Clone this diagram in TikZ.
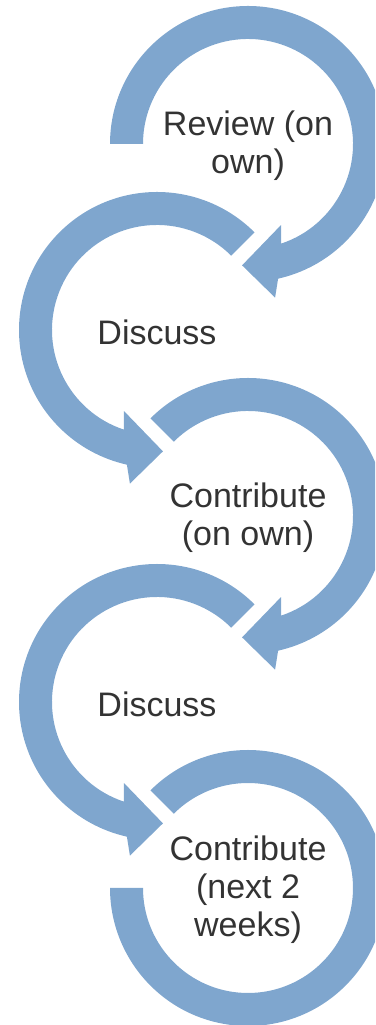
\documentclass[tikz,border=0pt]{standalone}
\usepackage{fontspec}
\setmainfont{Liberation Sans}
\definecolor{arrowblue}{HTML}{7FA6CE}

\begin{document}
\begin{tikzpicture}[
		x = 1pt, y = 1pt, % one unit per pixel
		ringarrow/.style = {fill = arrowblue}, % circular arrow fill
		stagetext/.style = {
			text = black!80,
			align = center,
			yshift = -2pt,
			font = \fontsize{34}{38}\selectfont
		}
		]
		
		\clip (0,0) rectangle (375,1025);
		
		% centres of the rings
		\coordinate (c1) at (248,881);
		\coordinate (c2) at (157,695);
		\coordinate (c3) at (248,509);
		\coordinate (c4) at (157,323);
		\coordinate (c5) at (248,137);
		
		% clockwise rings, head at the bottom
		\fill[ringarrow, shift={(c1)}] (180:138) arc[start angle=180, end angle=-77.4, radius=138]
			-- (-80:156) -- (-92.8:121.5) -- (-67.8:87.5) -- (-71.6:105)
			arc[start angle=-71.6, end angle=180, radius=105] -- cycle;
		\fill[ringarrow, shift={(c3)}] (135:138) arc[start angle=135, end angle=-77.4, radius=138]
			-- (-80:156) -- (-92.8:121.5) -- (-67.8:87.5) -- (-71.6:105)
			arc[start angle=-71.6, end angle=135, radius=105] -- cycle;
		
		% anticlockwise rings
		\fill[ringarrow, shift={(c2)}] (45:138) arc[start angle=45, end angle=257.4, radius=138]
			-- (260:156) -- (272.8:121.5) -- (247.8:87.5) -- (251.6:105)
			arc[start angle=251.6, end angle=45, radius=105] -- cycle;
		\fill[ringarrow, shift={(c4)}] (45:138) arc[start angle=45, end angle=257.4, radius=138]
			-- (260:156) -- (272.8:121.5) -- (247.8:87.5) -- (251.6:105)
			arc[start angle=251.6, end angle=45, radius=105] -- cycle;
		
		% last ring, no head
		\fill[ringarrow, shift={(c5)}] (135:138) arc[start angle=135, end angle=-180, radius=138]
			-- (-180:105) arc[start angle=-180, end angle=135, radius=105] -- cycle;
		
		\node[stagetext] (review) at (c1) {Review (on\\own)};
		\node[stagetext] (discuss_1) at (c2) {Discuss};
		\node[stagetext] (contrib_1) at (c3) {Contribute\\(on own)};
		\node[stagetext] (discuss_2) at (c4) {Discuss};
		\node[stagetext] (contrib_2) at (c5) {Contribute\\(next 2\\weeks)};
\end{tikzpicture}
\end{document}
